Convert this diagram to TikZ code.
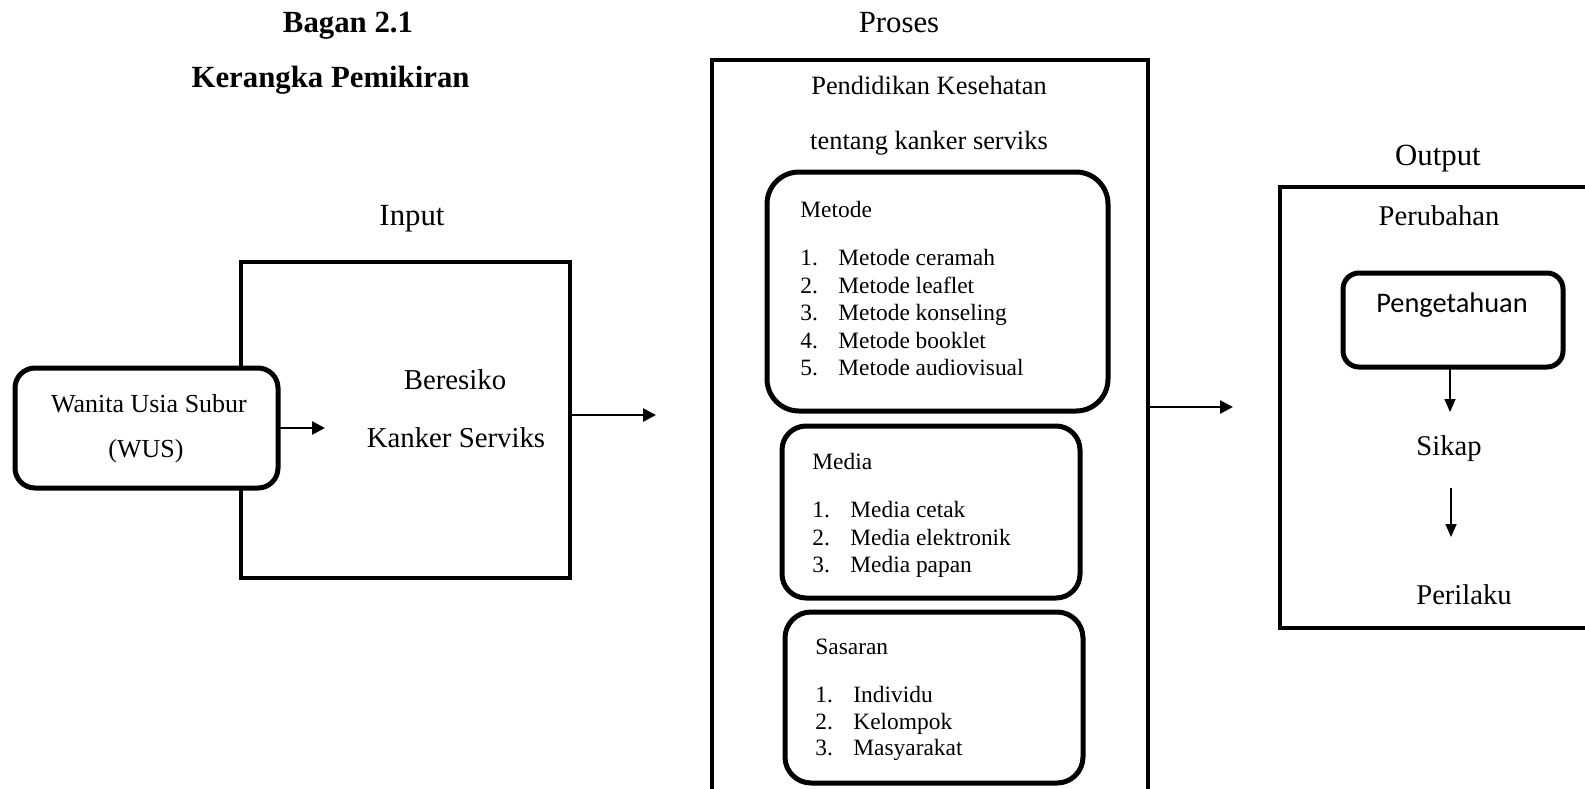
\documentclass[tikz,border=0pt]{standalone}
\usepackage{fontspec}
\setmainfont{Liberation Serif}
\newfontfamily\calibri{Carlito}
\usetikzlibrary{arrows.meta}
\begin{document}
\begin{tikzpicture}[x=0.5pt,y=-0.5pt,
  frame/.style={draw, line width=1.6pt, inner sep=0pt, outer sep=0pt},
  rbox/.style={draw, line width=2.5pt, fill=white, inner sep=0pt, outer sep=0pt},
  arr/.style={line width=1.3pt, -{Triangle[length=6.5pt,width=6.5pt]}},
  thinarr/.style={line width=0.8pt, -{Triangle[length=6.5pt,width=5.5pt]}},
  lbl/.style={inner sep=0pt, anchor=mid, yshift=-1.5pt},
  lst/.style={inner sep=0pt, anchor=mid west, yshift=-1.5pt, font=\fontsize{11.7}{13}\selectfont},
  big/.style={font=\fontsize{15.4}{18}\selectfont},
  mid/.style={font=\fontsize{14.4}{17}\selectfont},
  ttl/.style={font=\fontsize{15.4}{18}\selectfont\bfseries}
]
\path[use as bounding box] (0,0) rectangle (1585,788);
\clip (0,0) rectangle (1585,788);

% titles
\node[lbl, ttl] (bagan) at (348,25) {Bagan 2.1};
\node[inner sep=0pt, anchor=mid east, yshift=-1.5pt, ttl] (kerangka) at (470,80) {Kerangka Pemikiran};

% input
\node[lbl, big] (inputlbl) at (412,218) {Input};
\node[frame, minimum width=164.5pt, minimum height=158pt] (inbox) at (405.5,420) {};
\node[lbl, mid] (beresiko) at (455,382) {Beresiko};
\node[lbl, mid] (kanker) at (456,440) {Kanker Serviks};
\node[rbox, rounded corners=10pt, minimum width=131.5pt, minimum height=60pt] (wus) at (146.5,428) {};
\node[lbl, font=\fontsize{13}{15}\selectfont] (wus1) at (149,405) {Wanita Usia Subur};
\node[lbl, font=\fontsize{13}{15}\selectfont] (wus2) at (146,450) {(WUS)};
\coordinate (a1) at (325,428);
\draw[arr] (wus.east |- a1) -- (a1);
\coordinate (a2) at (656,415);
\draw[arr] (inbox.east |- a2) -- (a2);

% proses
\node[lbl, big] (proseslbl) at (899,25) {Proses};
\node[frame, minimum width=218pt, minimum height=370pt] (prbox) at (930,430) {};
\node[lbl, font=\fontsize{13.2}{15}\selectfont] (pk1) at (929,87) {Pendidikan Kesehatan};
\node[lbl, font=\fontsize{13.2}{15}\selectfont] (pk2) at (929,142) {tentang kanker serviks};

\node[rbox, rounded corners=16pt, minimum width=170.5pt, minimum height=119.5pt] (metode) at (937.5,291.5) {};
\node[lst] (metodeh) at (800,210) {Metode};
\foreach \i/\t/\y in {1/Metode ceramah/258, 2/Metode leaflet/285.5, 3/Metode konseling/313, 4/Metode booklet/340.5, 5/Metode audiovisual/368}{
  \node[lst] (mn\i) at (800,\y) {\i.};
  \node[lst] (mt\i) at (838,\y) {\t};
}

\node[rbox, rounded corners=12pt, minimum width=149pt, minimum height=86pt] (media) at (931,512) {};
\node[lst] (mediah) at (812,462) {Media};
\foreach \i/\t/\y in {1/Media cetak/510, 2/Media elektronik/537.5, 3/Media papan/565}{
  \node[lst] (dn\i) at (812,\y) {\i.};
  \node[lst] (dt\i) at (850,\y) {\t};
}

\node[rbox, rounded corners=13pt, minimum width=149pt, minimum height=85.5pt] (sasaran) at (934,697.5) {};
\node[lst] (sasaranh) at (815,647) {Sasaran};
\foreach \i/\t/\y in {1/Individu/695, 2/Kelompok/721.5, 3/Masyarakat/748}{
  \node[lst] (sn\i) at (815,\y) {\i.};
  \node[lst] (st\i) at (853,\y) {\t};
}

\coordinate (a3) at (1233,407);
\draw[arr] (prbox.east |- a3) -- (a3);

% output
\node[lbl, big] (outputlbl) at (1438,158) {Output};
\node[frame, minimum width=160pt, minimum height=220.5pt] (outbox) at (1440,407.5) {};
\node[lbl, font=\fontsize{14.3}{17}\selectfont] (perubahan) at (1439,218) {Perubahan};
\node[rbox, rounded corners=8pt, minimum width=110pt, minimum height=47pt] (peng) at (1453,320) {};
\node[lbl, font=\fontsize{14.2}{17}\calibri] (pengt) at (1452,305) {Pengetahuan};
\node[lbl, font=\fontsize{14.3}{17}\selectfont] (sikap) at (1449,448) {Sikap};
\node[lbl, font=\fontsize{14.3}{17}\selectfont] (perilaku) at (1464,597) {Perilaku};
\coordinate (a4) at (1450,412);
\draw[thinarr] (peng.south -| a4) -- (a4);
\coordinate (a5s) at (1451,488);
\coordinate (a5) at (1451,537);
\draw[thinarr] (a5s) -- (a5);
\end{tikzpicture}
\end{document}
